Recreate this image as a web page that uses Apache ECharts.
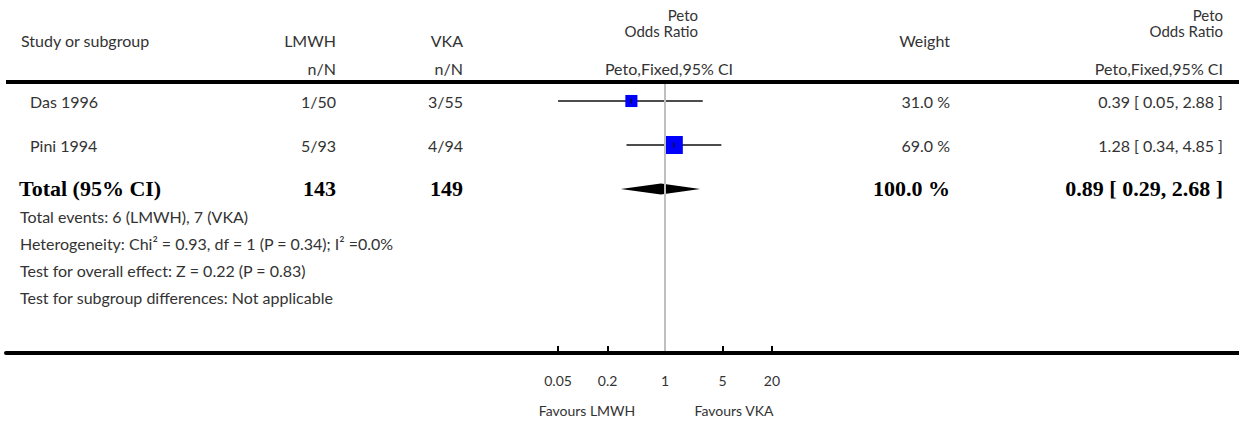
<!DOCTYPE html>
<html><head><meta charset="utf-8">
<script src="https://cdn.jsdelivr.net/npm/echarts@6/dist/echarts.min.js"></script>
<style>html,body{margin:0;padding:0;background:#fff}#c{width:1239px;height:422px}</style>
</head><body><div id="c"></div>
<script>
// ---- data ----
const studies = ['Das 1996', 'Pini 1994'];
const lmwhEvents = [1, 5];
const lmwhTotals = [50, 93];
const vkaEvents = [3, 4];
const vkaTotals = [55, 94];
const weights = [31.0, 69.0];
const oddsRatios = [0.39, 1.28];
const ciLow = [0.05, 0.34];
const ciHigh = [2.88, 4.85];
const totalOR = 0.89, totalLow = 0.29, totalHigh = 2.68;
const totalLmwh = 143, totalVka = 149;
const totalEventsLmwh = 6, totalEventsVka = 7;
const hetChi2 = '0.93', hetDf = 1, hetP = '0.34', hetI2 = '0.0';
const overallZ = '0.22', overallP = '0.83';
const tickValues = [0.05, 0.2, 1, 5, 20];
const tickLabels = ['0.05', '0.2', '1', '5', '20'];

// ---- layout ----
const FONT = 'Lato';
const TXT = '#333';
const DEC = 82.2;           // px per decade
const GL = 6, GW = 1239 - 6; // grid left / width
const ONE = 665;            // pixel of OR = 1
const XMIN = -(ONE - GL) / DEC, XMAX = (GL + GW - ONE) / DEC;
const GT = 84, GH = 269;
const ROW0 = 101, ROWH = 44;
const YMIN = (GT - ROW0) / ROWH, YMAX = (GT + GH - ROW0) / ROWH;

const lg = v => Math.log10(v);
const tickLogs = tickValues.map(lg);

function T(text, x, y, align, extra) {
  extra = extra || {};
  return {
    type: 'text', x: x, y: y, silent: true,
    style: Object.assign({
      text: text, fill: TXT,
      font: (extra.weight || 'normal') + ' ' + (extra.size || 16) + 'px ' + (extra.family || FONT),
      align: align, verticalAlign: 'middle',
      textAlign: align, textVerticalAlign: 'middle'
    }, extra.style || {})
  };
}
const fmt2 = v => v.toFixed(2);
const ciText = (o, l, h) => fmt2(o) + ' [ ' + fmt2(l) + ', ' + fmt2(h) + ' ]';

const C1 = 336, C2 = 463, CW = 950, CR = 1223;
const H = {size: 15};
const g = [];
g.push({type: 'rect', shape: {x: 6, y: 80, width: 1233, height: 4}, style: {fill: '#000'}, silent: true});
// header
g.push(T('Peto', 698, 15, 'right', H));
g.push(T('Odds Ratio', 698, 31, 'right', H));
g.push(T('Peto', CR, 15, 'right', H));
g.push(T('Odds Ratio', CR, 31, 'right', H));
g.push(T('Study or subgroup', 21, 40, 'left'));
g.push(T('LMWH', C1, 40, 'right'));
g.push(T('VKA', C2, 40, 'right'));
g.push(T('Weight', CW, 40, 'right'));
g.push(T('n/N', C1, 68, 'right'));
g.push(T('n/N', C2, 68, 'right'));
g.push(T('Peto,Fixed,95% CI', 669, 68, 'center'));
g.push(T('Peto,Fixed,95% CI', CR, 68, 'right'));
// study rows
studies.forEach((s, i) => {
  const y = ROW0 + i * ROWH;
  g.push(T(s, 30, y, 'left'));
  g.push(T(lmwhEvents[i] + '/' + lmwhTotals[i], C1, y, 'right'));
  g.push(T(vkaEvents[i] + '/' + vkaTotals[i], C2, y, 'right'));
  g.push(T(weights[i].toFixed(1) + ' %', CW, y, 'right'));
  g.push(T(ciText(oddsRatios[i], ciLow[i], ciHigh[i]), CR, y, 'right'));
});
// total row
const BOLD = {weight: 'bold', size: 22, family: '"Liberation Serif", serif', style: {fill: '#000'}};
const yT = ROW0 + 2 * ROWH - 1;
g.push(T('Total (95% CI)', 19, yT, 'left', BOLD));
g.push(T(String(totalLmwh), C1, yT, 'right', BOLD));
g.push(T(String(totalVka), C2, yT, 'right', BOLD));
g.push(T('100.0 %', CW, yT, 'right', BOLD));
g.push(T(ciText(totalOR, totalLow, totalHigh), CR, yT, 'right', BOLD));
// footnotes
g.push(T('Total events: ' + totalEventsLmwh + ' (LMWH), ' + totalEventsVka + ' (VKA)', 20, 216, 'left'));
g.push(T('Heterogeneity: Chi\u00B2 = ' + hetChi2 + ', df = ' + hetDf + ' (P = ' + hetP + '); I\u00B2 =' + hetI2 + '%', 20, 243, 'left'));
g.push(T('Test for overall effect: Z = ' + overallZ + ' (P = ' + overallP + ')', 20, 270, 'left'));
g.push(T('Test for subgroup differences: Not applicable', 20, 297, 'left'));
g.push(T('Favours LMWH', 587, 410, 'center', {size: 14}));
g.push(T('Favours VKA', 734, 410, 'center', {size: 14}));

const studyData = studies.map((s, i) => [lg(ciLow[i]), lg(ciHigh[i]), lg(oddsRatios[i]), i, weights[i]]);
const totalData = [[lg(totalLow), lg(totalHigh), lg(totalOR), 2]];

const chart = echarts.init(document.getElementById('c'), null, {renderer: 'svg'});
chart.setOption({
  animation: false,
  grid: {left: GL, width: GW, top: GT, height: GH},
  xAxis: {
    type: 'value', min: XMIN, max: XMAX, z: 10,
    axisLine: {show: true, onZero: false, lineStyle: {color: '#000', width: 4}},
    axisTick: {show: true, inside: true, length: 7, customValues: tickLogs.filter((v, i) => tickValues[i] !== 1),
      lineStyle: {color: '#000', width: 2}},
    axisLabel: {show: true, customValues: tickLogs, margin: 20, color: TXT, fontFamily: FONT, fontSize: 14,
      formatter: v => { const k = tickLogs.findIndex(t => Math.abs(t - v) < 1e-6); return k >= 0 ? tickLabels[k] : ''; }},
    splitLine: {show: false}
  },
  yAxis: {type: 'value', inverse: true, min: YMIN, max: YMAX, show: false},
  graphic: g,
  series: [
    {
      type: 'line', data: [], z: 1, silent: true,
      markLine: {silent: true, symbol: ['none', 'none'], label: {show: false},
        lineStyle: {color: '#bfbfbf', width: 2, type: 'solid'}, data: [{xAxis: 0}]}
    },
    {
      type: 'custom', z: 3, silent: true, data: studyData,
      renderItem: (params, api) => {
        const r = api.value(3);
        const a = api.coord([api.value(0), r]);
        const b = api.coord([api.value(1), r]);
        const c = api.coord([api.value(2), r]);
        const s = 2.17 * Math.sqrt(api.value(4));
        return {type: 'group', children: [
          {type: 'line', shape: {x1: a[0], y1: a[1], x2: b[0], y2: b[1]}, style: {stroke: '#111', lineWidth: 1.3}},
          {type: 'rect', shape: {x: c[0] - s / 2, y: c[1] - s / 2, width: s, height: s}, style: {fill: '#0000ff'}},
          {type: 'line', shape: {x1: c[0], y1: c[1] - 2.5, x2: c[0], y2: c[1] + 2.5}, style: {stroke: '#111', lineWidth: 1.3}}
        ]};
      }
    },
    {
      type: 'custom', z: 3, silent: true, data: totalData,
      renderItem: (params, api) => {
        const r = api.value(3);
        const a = api.coord([api.value(0), r]);
        const b = api.coord([api.value(1), r]);
        const c = api.coord([api.value(2), r]);
        const h = 5.5;
        return {type: 'polygon', shape: {points: [[a[0], a[1]], [c[0], c[1] - h], [b[0], b[1]], [c[0], c[1] + h]]},
          style: {fill: '#000'}};
      }
    }
  ]
});
</script>
</body></html>
